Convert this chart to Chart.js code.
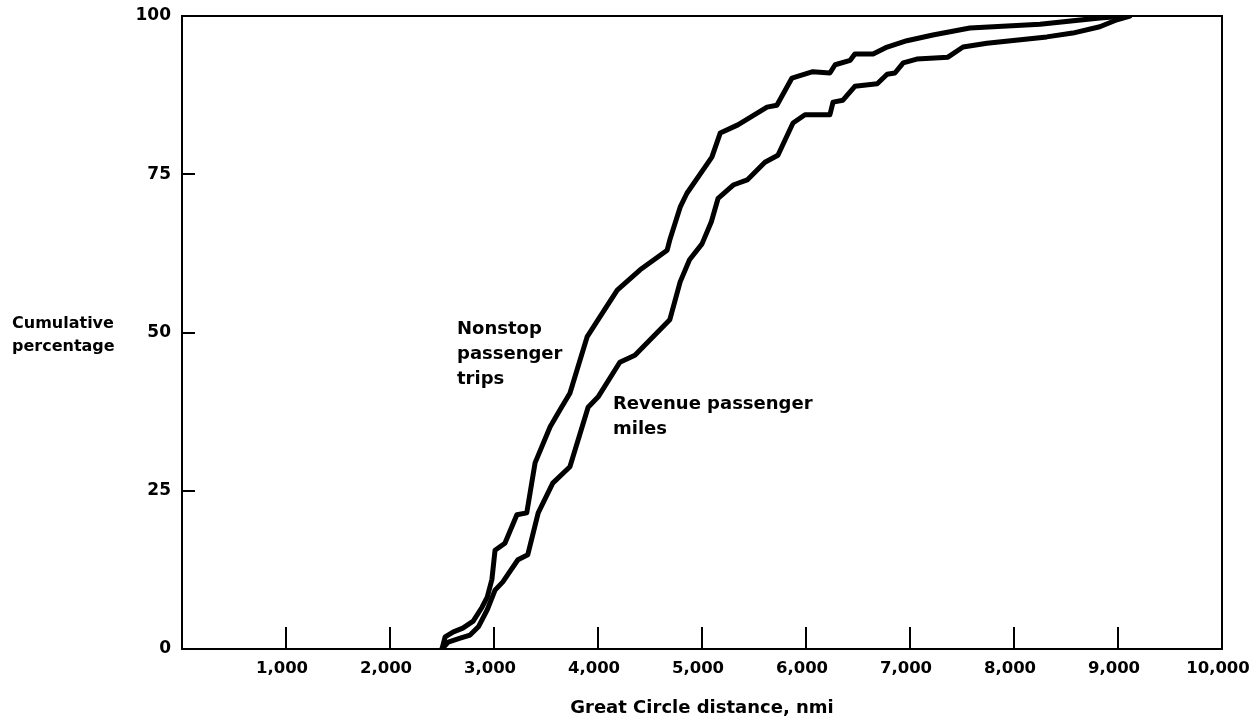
<!DOCTYPE html>
<html>
<head>
<meta charset="utf-8">
<title>Cumulative percentage vs Great Circle distance</title>
<script src="https://cdn.jsdelivr.net/npm/chart.js@4"></script>
<style>
  html, body { margin: 0; padding: 0; background: #fff; }
  #wrap { position: relative; width: 1252px; height: 719px; }
  .note {
    position: absolute;
    font-family: "DejaVu Sans", sans-serif;
    font-weight: bold;
    font-size: 18px;
    line-height: 25px;
    color: #000;
    white-space: nowrap;
  }
</style>
</head>
<body>
<div id="wrap">
  <canvas id="chart"></canvas>
  <div class="note" style="left:12px; top:311px; font-size:16px; line-height:23px;">Cumulative<br>percentage</div>
  <div class="note" style="left:457px; top:315px;">Nonstop<br>passenger<br>trips</div>
  <div class="note" style="left:613px; top:390px;">Revenue passenger<br>miles</div>
</div>
<script>
// Distance (nmi) and cumulative percentage
const nonstopDistance = [2500, 2530, 2610, 2700, 2800, 2885, 2935, 2980, 3010, 3105, 3220, 3315, 3395, 3540, 3635, 3730, 3895, 4020, 4185, 4405, 4665, 4690, 4790, 4855, 5095, 5175, 5345, 5625, 5720, 5865, 6065, 6230, 6280, 6425, 6470, 6645, 6780, 6970, 7220, 7385, 7575, 8250, 8825, 9085];
const nonstopPercent = [0, 1.9, 2.7, 3.3, 4.4, 6.6, 8.2, 11.0, 15.6, 16.7, 21.2, 21.5, 29.4, 35.1, 37.8, 40.4, 49.3, 52.5, 56.7, 59.9, 63.0, 64.6, 69.8, 72.0, 77.7, 81.5, 82.8, 85.6, 85.9, 90.2, 91.2, 91.0, 92.3, 93.0, 94.0, 94.0, 95.1, 96.1, 97.0, 97.5, 98.1, 98.7, 99.7, 100];

const revenueDistance = [2500, 2560, 2675, 2770, 2850, 2935, 3010, 3085, 3230, 3325, 3425, 3565, 3730, 3905, 4000, 4210, 4355, 4690, 4790, 4880, 5000, 5090, 5155, 5300, 5435, 5605, 5730, 5875, 5990, 6230, 6260, 6355, 6470, 6685, 6780, 6855, 6935, 7065, 7365, 7510, 7740, 8315, 8565, 8825, 8990, 9115];
const revenuePercent = [0, 1.1, 1.7, 2.2, 3.5, 6.2, 9.3, 10.6, 14.1, 14.9, 21.5, 26.2, 28.8, 38.2, 39.8, 45.3, 46.4, 52.0, 58.0, 61.5, 64.0, 67.5, 71.2, 73.3, 74.1, 76.9, 78.0, 83.1, 84.4, 84.4, 86.4, 86.7, 88.9, 89.3, 90.8, 91.0, 92.6, 93.2, 93.5, 95.1, 95.7, 96.7, 97.3, 98.3, 99.4, 100];

const xTickValues = [1000, 2000, 3000, 4000, 5000, 6000, 7000, 8000, 9000, 10000];
const yTickValues = [0, 25, 50, 75, 100];

const xTitle = 'Great Circle distance, nmi';

function toPoints(xs, ys) {
  return xs.map((v, i) => ({ x: v, y: ys[i] }));
}

// Box around the plot plus tick marks pointing inward
const frameAndTicks = {
  id: 'frameAndTicks',
  afterDatasetsDraw(chart) {
    const { ctx, chartArea: a, scales: { x, y } } = chart;
    ctx.save();
    ctx.strokeStyle = '#000';
    ctx.lineWidth = 2;
    ctx.strokeRect(a.left, a.top, a.right - a.left, a.bottom - a.top);
    ctx.beginPath();
    x.ticks.forEach(t => {
      if (t.value > x.min && t.value < x.max) {
        const px = Math.round(x.getPixelForValue(t.value));
        ctx.moveTo(px, a.bottom);
        ctx.lineTo(px, a.bottom - 22);
      }
    });
    y.ticks.forEach(t => {
      if (t.value > y.min && t.value < y.max) {
        const py = Math.round(y.getPixelForValue(t.value));
        ctx.moveTo(a.left, py);
        ctx.lineTo(a.left + 13, py);
      }
    });
    ctx.stroke();
    ctx.restore();
  }
};

Chart.defaults.font.family = '"DejaVu Sans", sans-serif';
Chart.defaults.font.weight = 'bold';
Chart.defaults.font.size = 17;
Chart.defaults.color = '#000';

const lineStyle = {
  borderColor: '#000',
  borderWidth: 5,
  pointRadius: 0,
  tension: 0,
  fill: false,
  borderJoinStyle: 'round',
  borderCapStyle: 'round'
};

new Chart(document.getElementById('chart'), {
  type: 'line',
  data: {
    datasets: [
      { label: 'Nonstop passenger trips', data: toPoints(nonstopDistance, nonstopPercent), ...lineStyle },
      { label: 'Revenue passenger miles', data: toPoints(revenueDistance, revenuePercent), ...lineStyle }
    ]
  },
  options: {
    responsive: true,
    maintainAspectRatio: false,
    animation: false,
    layout: { padding: { top: 16, right: 30, bottom: 0, left: 0 } },
    plugins: {
      legend: { display: false },
      tooltip: { enabled: false }
    },
    scales: {
      x: {
        type: 'linear',
        min: 0,
        max: 10000,
        afterBuildTicks: scale => { scale.ticks = xTickValues.map(v => ({ value: v })); },
        afterFit: scale => {
          scale.height = 70;
          scale.paddingLeft = 0;
          scale.paddingRight = 0;
        },
        grid: { display: false, drawTicks: false },
        border: { display: false },
        ticks: {
          padding: 10,
          labelOffset: -4,
          maxRotation: 0,
          autoSkip: false,
          font: { size: 16.5, weight: 'bold' },
          callback: v => v.toLocaleString('en-US')
        },
        title: {
          display: true,
          text: xTitle,
          padding: { top: 0, bottom: 0 },
          font: { size: 18, weight: 'bold' }
        }
      },
      y: {
        type: 'linear',
        min: 0,
        max: 100,
        afterBuildTicks: scale => { scale.ticks = yTickValues.map(v => ({ value: v })); },
        afterFit: scale => {
          scale.width = 182;
          scale.paddingTop = 0;
          scale.paddingBottom = 0;
        },
        grid: { display: false, drawTicks: false },
        border: { display: false },
        ticks: { padding: 11 }
      }
    }
  },
  plugins: [frameAndTicks]
});
</script>
</body>
</html>
